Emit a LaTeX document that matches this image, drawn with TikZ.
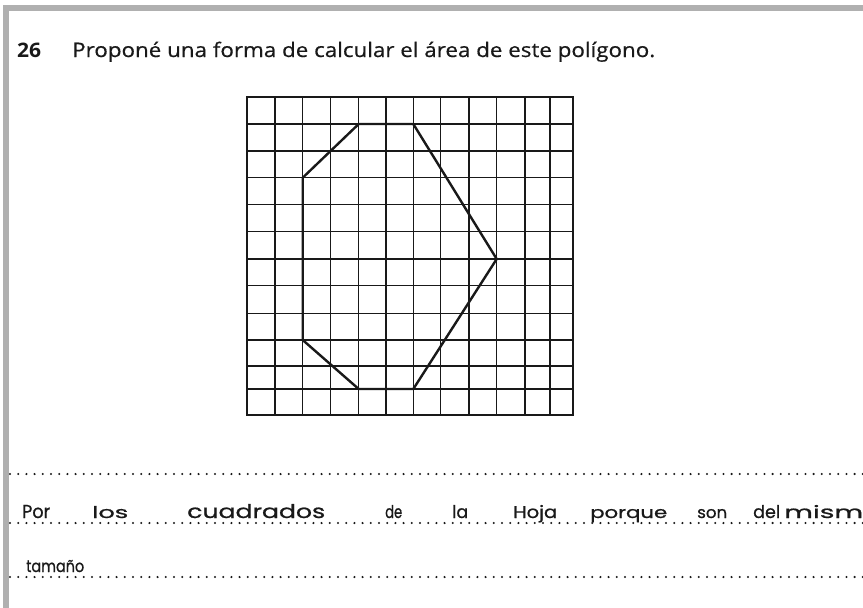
\documentclass[tikz,border=0pt]{standalone}
\usepackage{fontspec}
\setmainfont{Open Sans}
\newfontfamily\titlefont[FakeBold=0.5]{Open Sans}
\newfontfamily\handfont[FakeBold=0.8]{Poppins}
\definecolor{bordergray}{RGB}{176,176,176}
\definecolor{ink}{RGB}{25,25,25}
\newcommand{\hw}[3]{\resizebox{#1pt}{#2pt}{#3}}
\tikzset{
  gridline/.style={draw=ink, line width=1.4pt},
  gridframe/.style={draw=ink, line width=1.8pt},
  polyline/.style={draw=ink, line width=2.4pt, line join=round},
  dotrow/.style={draw=ink, line width=2.3pt, line cap=round, dash pattern=on 0pt off 8.2pt},
  titletext/.style={anchor=base west, inner sep=0pt, text=ink, font=\titlefont\fontsize{20}{24}\selectfont},
  handtext/.style={anchor=base west, inner sep=0pt, text=ink, font=\handfont\fontsize{20}{22}\selectfont},
}
\begin{document}
\begin{tikzpicture}[x=1pt,y=-1pt]
\useasboundingbox (0,0) rectangle (863,608);
\fill[white] (0,0) rectangle (863,608);
% gray page border
\fill[bordergray] (3,5) rectangle (8.5,608);
\fill[bordergray] (3,5) rectangle (863,10.5);
% title
\node[titletext, font=\bfseries\fontsize{20}{24}\selectfont] (num) at (17,57) {\resizebox{24pt}{\height}{26}};
\node[titletext] (title) at (72,57) {\resizebox{583pt}{\height}{Proponé una forma de calcular el área de este polígono.}};
% grid 12 x 12 (measured line positions)
\def\xs{{247,275,302.7,330.7,358.7,386,413.3,440.7,469,496.7,525,550,573.3}}
\def\ys{{96.7,124,151,177.7,204.3,231.7,259,285.7,313.3,340,366,389,415}}
\foreach \i in {1,...,11}{
  \draw[gridline] ({\xs[\i]},96.7) -- ({\xs[\i]},415);
  \draw[gridline] (247,{\ys[\i]}) -- (573.3,{\ys[\i]});
}
\draw[gridframe] (247,96.7) rectangle (573.3,415);
% polygon
\coordinate (p1) at (358.7,124);
\coordinate (p2) at (413.3,124);
\coordinate (p3) at (496.7,259);
\coordinate (p4) at (413.3,389);
\coordinate (p5) at (358.7,389);
\coordinate (p6) at (302.7,340);
\coordinate (p7) at (302.7,177.7);
\draw[polyline] (p1) -- (p2) -- (p3) -- (p4) -- (p5) -- (p6) -- (p7) -- cycle;
% dotted answer lines
\coordinate (d1a) at (10,474); \coordinate (d1b) at (863,474);
\coordinate (d2a) at (10,523); \coordinate (d2b) at (863,523);
\coordinate (d3a) at (10,577); \coordinate (d3b) at (863,577);
\draw[dotrow] (d1a) -- (d1b);
\draw[dotrow] (d2a) -- (d2b);
\draw[dotrow] (d3a) -- (d3b);
% handwritten answer
\node[handtext] (w1) at (22,518) {\hw{28}{13}{Por}};
\node[handtext] (w2) at (92,518) {\hw{36}{12}{los}};
\node[handtext] (w3) at (187,518) {\hw{138}{14}{cuadrados}};
\node[handtext] (w4) at (385,518) {\hw{17}{13}{de}};
\node[handtext] (w5) at (452,518) {\hw{16}{13}{la}};
\node[handtext] (w6) at (513,518) {\hw{44}{13}{Hoja}};
\node[handtext] (w7) at (590,518) {\hw{77}{9}{porque}};
\node[handtext] (w8) at (697,518) {\hw{30}{9}{son}};
\node[handtext] (w9) at (753,518) {\hw{27}{13}{del}};
\node[handtext] (w10) at (784,518) {\hw{79}{13}{mism}};
\node[handtext] (w11) at (26,572) {\hw{58}{12}{tamaño}};
\end{tikzpicture}
\end{document}
